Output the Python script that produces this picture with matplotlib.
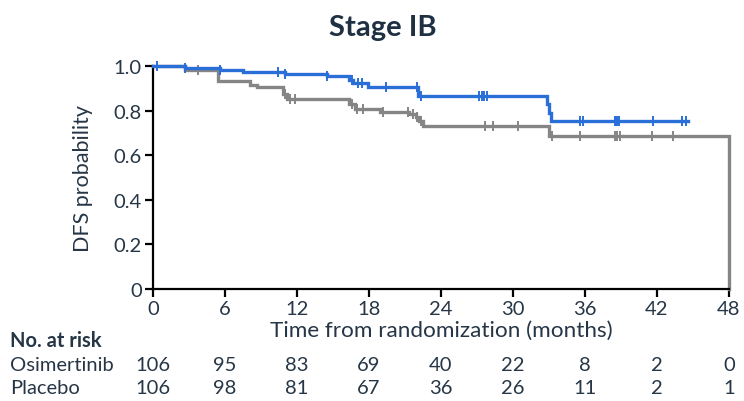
import numpy as np
import matplotlib
matplotlib.use("Agg")
import matplotlib.pyplot as plt
from matplotlib.transforms import blended_transform_factory

plt.rcParams['font.family'] = ['Lato', 'DejaVu Sans']

TEXT = '#263646'
BLUE = '#2a6fd8'
GREY = '#858585'

# Kaplan-Meier step curves (time in months, survival after each step)
osi_t = [0, 2.7, 5.6, 7.5, 11.0, 14.5, 16.3, 16.7, 17.9, 22.1, 32.8, 33.0, 33.2]
osi_s = [1.0, 0.991, 0.981, 0.972, 0.963, 0.954, 0.935, 0.925, 0.906, 0.864, 0.83, 0.79, 0.752]
osi_end = 44.6

pla_t = [0, 2.7, 5.4, 8.1, 8.7, 10.8, 11.2, 16.3, 16.8, 18.9, 21.3, 21.9, 22.2, 22.5, 33.0, 48.0]
pla_s = [1.0, 0.981, 0.934, 0.915, 0.905, 0.876, 0.853, 0.83, 0.807, 0.795, 0.785, 0.77, 0.755, 0.732, 0.688, 0.0]
pla_end = 48.0

# censored observations
osi_cens = [0.3, 2.7, 5.6, 10.4, 11.0, 14.5, 16.6, 17.1, 17.4, 19.4, 22.0, 22.3,
            27.2, 27.4, 27.6, 27.8, 35.6, 35.8, 38.5, 38.6, 38.7, 38.8, 41.7, 44.1, 44.4]
pla_cens = [3.75, 11.0, 11.4, 11.8, 16.6, 17.0, 17.5, 19.2, 21.25, 21.7, 22.0, 22.3,
            27.7, 28.3, 30.4, 33.25, 35.6, 38.5, 38.7, 38.9, 41.6, 43.3]

# number at risk
risk_times = [0, 6, 12, 18, 24, 30, 36, 42, 48]
osi_risk = [106, 95, 83, 69, 40, 22, 8, 2, 0]
pla_risk = [106, 98, 81, 67, 36, 26, 11, 2, 1]
arm_names = ['Osimertinib', 'Placebo']

yticks = [0, 0.2, 0.4, 0.6, 0.8, 1.0]
ytick_labels = ['0', '0.2', '0.4', '0.6', '0.8', '1.0']


def km_at(times, surv, x):
    idx = np.searchsorted(times, x, side='right') - 1
    return np.asarray(surv)[idx]


fig = plt.figure(figsize=(7.44, 4.02), dpi=100)
ax = fig.add_axes([153 / 744, 112 / 402, 576 / 744, 223 / 402])

for t, s, end, cens, col, z in [(pla_t, pla_s, pla_end, pla_cens, GREY, 2),
                                 (osi_t, osi_s, osi_end, osi_cens, BLUE, 3)]:
    tt = list(t) + [end]
    ss = list(s) + [s[-1]]
    ax.step(tt, ss, where='post', color=col, lw=2.4, zorder=z, clip_on=False,
            solid_joinstyle='miter')
    ax.plot(cens, km_at(t, s, cens), ls='none', marker='|', ms=6.5, mew=1.4,
            color=col, zorder=z, clip_on=False)

ax.set_xlim(0, 48)
ax.set_ylim(0, 1.0)
ax.set_xticks(risk_times)
ax.set_yticks(yticks)
ax.set_yticklabels(ytick_labels)
for side in ['top', 'right']:
    ax.spines[side].set_visible(False)
for side in ['left', 'bottom']:
    ax.spines[side].set_linewidth(1.6)
    ax.spines[side].set_color('black')
ax.tick_params(axis='both', direction='out', length=6, width=1.6, color='black',
               labelsize=14.5, labelcolor=TEXT, pad=2)

ax.set_ylabel('DFS probability', fontsize=15.5, color=TEXT, labelpad=15)
ax.set_xlabel('Time from randomization (months)', fontsize=16.2, color=TEXT, labelpad=2)

fig.text(383 / 744, 1 - 28 / 402, 'Stage IB', ha='center', va='center',
         fontsize=21, fontweight='bold', color='#1f3042')

# number-at-risk table
tr = blended_transform_factory(ax.transData, fig.transFigure)
fig.text(10 / 744, 1 - 341 / 402, 'No. at risk', ha='left', va='center',
         fontsize=14.5, fontweight='bold', color=TEXT)
for row_y, name, vals in [(366, arm_names[0], osi_risk), (389, arm_names[1], pla_risk)]:
    fig.text(10 / 744, 1 - row_y / 402, name, ha='left', va='center',
             fontsize=14.5, color=TEXT)
    for x, v in zip(risk_times, vals):
        ax.text(x, 1 - row_y / 402, str(v), transform=tr, ha='center', va='center',
                fontsize=14.5, color=TEXT)

fig.savefig('out.png', dpi=100, facecolor='white')
